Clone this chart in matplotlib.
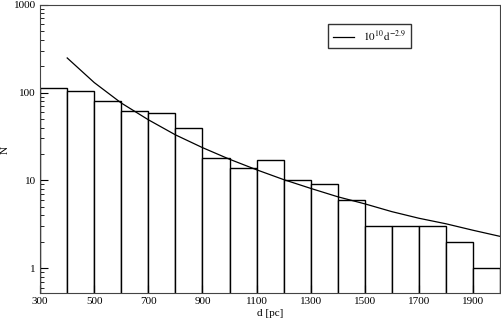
'''
Distance histogram with the power-law fit, log scale.
'''

import matplotlib
matplotlib.use('Agg')
import matplotlib.pyplot as plt
from matplotlib.ticker import FixedLocator, LogLocator, NullFormatter

plt.rcParams['font.family'] = ['Liberation Serif', 'DejaVu Serif']
plt.rcParams['mathtext.fontset'] = 'stix'

# histogram bins (left edges, pc) and counts
BIN_LEFT = [300, 400, 500, 600, 700, 800, 900, 1000, 1100, 1200,
            1300, 1400, 1500, 1600, 1700, 1800, 1900]
COUNTS = [112, 105, 80, 62, 58, 40, 18, 14, 17, 10, 9, 6, 3, 3, 3, 2, 1]

# fit curve
FIT_D = [400, 500, 600, 700, 800, 900, 1000, 1100, 1200, 1300,
         1400, 1500, 1600, 1700, 1800, 1900, 2000]
FIT_N = [248, 130, 76, 49, 33, 23.6, 17.4, 13.2, 10.2, 8.1,
         6.5, 5.4, 4.4, 3.7, 3.2, 2.7, 2.3]

X_TICKS = [300, 500, 700, 900, 1100, 1300, 1500, 1700, 1900]
Y_TICKS = [1, 10, 100, 1000]
Y_LABELS = ['1', '10', '100', '1000']

fig = plt.figure(figsize=(5.02, 3.22), dpi=100)
ax = fig.add_axes([0.080, 0.090, 0.916, 0.895])

ax.bar(BIN_LEFT, COUNTS, width=100, align='edge', color='white',
       edgecolor='black', linewidth=1.0)
ax.plot(FIT_D, FIT_N, color='black', linewidth=0.9,
        label=r'$10^{10}\,\mathrm{d}^{-2.9}$')

ax.set_yscale('log')
ax.set_xlim(300, 2000)
ax.set_ylim(0.52, 1000)

ax.xaxis.set_major_locator(FixedLocator(X_TICKS))
ax.xaxis.set_minor_locator(FixedLocator(range(400, 2000, 200)))
ax.set_yticks(Y_TICKS)
ax.set_yticklabels(Y_LABELS)
ax.yaxis.set_minor_locator(LogLocator(base=10, subs=range(2, 10)))
ax.yaxis.set_minor_formatter(NullFormatter())

ax.tick_params(which='both', direction='in', top=False, right=False,
               labelsize=8, pad=3)
ax.tick_params(which='major', length=6)
ax.tick_params(which='minor', length=3)

for sp in ax.spines.values():
    sp.set_color('#444444')

ax.set_xlabel('d [pc]', fontsize=8, labelpad=2)
ax.set_ylabel('N', fontsize=8)
ax.yaxis.set_label_coords(-0.066, 0.495)

ax.legend(loc='upper left', bbox_to_anchor=(0.626, 0.935), frameon=True,
          fancybox=False, edgecolor='black', fontsize=8, handlelength=1.9,
          borderpad=0.45, handletextpad=0.8, borderaxespad=0)

fig.savefig('out.png', dpi=100)
